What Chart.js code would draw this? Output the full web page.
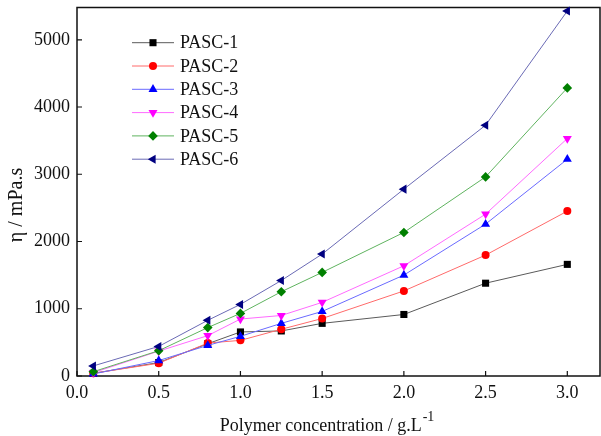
<!DOCTYPE html>
<html>
<head>
<meta charset="utf-8">
<script src="https://cdn.jsdelivr.net/npm/chart.js@4/dist/chart.umd.min.js"></script>
<style>
  body { margin: 0; background: #fff; }
  #wrap { width: 601px; height: 436px; position: relative; }
</style>
</head>
<body>
<div id="wrap"><canvas id="viscChart"></canvas></div>
<script>
const SERIF = '"Liberation Serif", "Times New Roman", serif';

// Polymer concentration (g/L)
const concentrations = [0.1, 0.5, 0.8, 1.0, 1.25, 1.5, 2.0, 2.5, 3.0];

// viscosity (mPa.s)
const pasc1 = [40, 200, 480, 655, 670, 783, 915, 1380, 1660];
const pasc2 = [40, 190, 490, 530, 695, 855, 1265, 1798, 2452];
const pasc3 = [30, 230, 455, 590, 783, 960, 1501, 2259, 3224];
const pasc4 = [50, 370, 600, 847, 900, 1095, 1639, 2407, 3532];
const pasc5 = [64, 376, 720, 931, 1253, 1541, 2135, 2961, 4284];
const pasc6 = [150, 440, 828, 1065, 1420, 1813, 2779, 3730, 5428];

const seriesNames = ['PASC-1', 'PASC-2', 'PASC-3', 'PASC-4', 'PASC-5', 'PASC-6'];
const seriesValues = [pasc1, pasc2, pasc3, pasc4, pasc5, pasc6];

const xTicks = [0.0, 0.5, 1.0, 1.5, 2.0, 2.5, 3.0];
const yTicks = [0, 1000, 2000, 3000, 4000, 5000];

const markerColors = ['#000000', '#ff0000', '#0000ff', '#ff00ff', '#008000', '#000080'];
const lineColors = ['#5a5a5a', '#ff6a6a', '#6a6aff', '#ff6aff', '#5fb35f', '#6a6ab5'];
const markerStyles = [
    { pointStyle: 'rect', rotation: 0, radius: 5 },
    { pointStyle: 'circle', rotation: 0, radius: 4 },
    { pointStyle: 'triangle', rotation: 0, radius: 5.2 },
    { pointStyle: 'triangle', rotation: 180, radius: 5.2 },
    { pointStyle: 'rectRot', rotation: 0, radius: 4.8 },
    { pointStyle: 'triangle', rotation: 270, radius: 5.2 }
];

const datasets = seriesNames.map((name, i) => ({
    label: name,
    data: concentrations.map((c, j) => ({ x: c, y: seriesValues[i][j] })),
    borderColor: lineColors[i],
    borderWidth: 1,
    backgroundColor: markerColors[i],
    pointBackgroundColor: markerColors[i],
    pointBorderColor: markerColors[i],
    pointBorderWidth: 0,
    pointStyle: markerStyles[i].pointStyle,
    pointRotation: markerStyles[i].rotation,
    pointRadius: markerStyles[i].radius,
    pointHoverRadius: markerStyles[i].radius,
    tension: 0,
    clip: false,
    order: seriesNames.length - i
}));

// frame and inward ticks
const framePlugin = {
    id: 'frame',
    beforeDatasetsDraw(chart) {
        const { ctx, chartArea, scales } = chart;
        ctx.save();
        ctx.strokeStyle = '#111';
        ctx.lineWidth = 1.5;
        ctx.strokeRect(chartArea.left, chartArea.top, chartArea.right - chartArea.left, chartArea.bottom - chartArea.top);
        ctx.lineWidth = 1.2;
        ctx.beginPath();
        scales.x.ticks.forEach(t => {
            const px = scales.x.getPixelForValue(t.value);
            ctx.moveTo(px, chartArea.bottom);
            ctx.lineTo(px, chartArea.bottom - 5);
        });
        scales.y.ticks.forEach(t => {
            const py = scales.y.getPixelForValue(t.value);
            ctx.moveTo(chartArea.left, py);
            ctx.lineTo(chartArea.left + 5, py);
        });
        ctx.stroke();
        ctx.restore();
    }
};

// legend inside plot + axis titles (x title has a superscript)
const legendPlugin = {
    id: 'insideLegend',
    afterDraw(chart) {
        const { ctx } = chart;
        ctx.save();
        ctx.font = '18px ' + SERIF;
        ctx.textBaseline = 'middle';
        ctx.textAlign = 'left';
        chart.data.datasets.forEach((ds, i) => {
            const y = 42.7 + i * 23.3;
            ctx.strokeStyle = ds.borderColor;
            ctx.lineWidth = 1;
            ctx.beginPath();
            ctx.moveTo(132, y);
            ctx.lineTo(174, y);
            ctx.stroke();
            ctx.fillStyle = ds.pointBackgroundColor;
            ctx.strokeStyle = ds.pointBorderColor;
            Chart.helpers.drawPoint(ctx, {
                pointStyle: ds.pointStyle,
                rotation: ds.pointRotation,
                radius: ds.pointRadius,
                borderWidth: 0
            }, 153, y);
            ctx.fillStyle = '#111';
            ctx.fillText(ds.label, 180, y + 1);
        });

        // x axis title
        const main = 'Polymer concentration / g.L';
        const sup = '-1';
        ctx.font = '18px ' + SERIF;
        const wMain = ctx.measureText(main).width;
        ctx.font = '14px ' + SERIF;
        const wSup = ctx.measureText(sup).width;
        const x0 = 327 - (wMain + wSup + 1) / 2;
        ctx.textBaseline = 'alphabetic';
        ctx.fillStyle = '#111';
        ctx.font = '18px ' + SERIF;
        ctx.fillText(main, x0, 431);
        ctx.font = '14px ' + SERIF;
        ctx.fillText(sup, x0 + wMain + 1, 421);

        // y axis title
        ctx.translate(22, 205);
        ctx.rotate(-Math.PI / 2);
        ctx.textAlign = 'center';
        ctx.font = '20px ' + SERIF;
        ctx.fillText('η / mPa.s', 0, 0);
        ctx.restore();
    }
};

new Chart(document.getElementById('viscChart'), {
    type: 'line',
    data: { datasets },
    options: {
        responsive: true,
        maintainAspectRatio: false,
        animation: false,
        events: [],
        layout: { autoPadding: false, padding: { top: 7.5, right: 1, left: 0, bottom: 0 } },
        plugins: {
            legend: { display: false },
            tooltip: { enabled: false }
        },
        scales: {
            x: {
                type: 'linear',
                min: 0,
                max: 3.2,
                afterBuildTicks: scale => { scale.ticks = xTicks.map(v => ({ value: v })); },
                afterFit: scale => {
                    scale.height = 60;
                    scale.paddingLeft = 0;
                    scale.paddingRight = 0;
                },
                grid: { display: false, drawTicks: false },
                border: { display: false },
                ticks: {
                    color: '#111',
                    font: { family: SERIF, size: 18 },
                    padding: 6,
                    maxRotation: 0,
                    callback: v => Number(v).toFixed(1)
                }
            },
            y: {
                min: 0,
                max: 5480,
                afterBuildTicks: scale => { scale.ticks = yTicks.map(v => ({ value: v })); },
                afterFit: scale => {
                    scale.width = 77;
                    scale.paddingTop = 0;
                    scale.paddingBottom = 0;
                },
                grid: { display: false, drawTicks: false },
                border: { display: false },
                ticks: {
                    color: '#111',
                    font: { family: SERIF, size: 18 },
                    padding: 7,
                    callback: v => String(v)
                }
            }
        }
    },
    plugins: [framePlugin, legendPlugin]
});
</script>
</body>
</html>
